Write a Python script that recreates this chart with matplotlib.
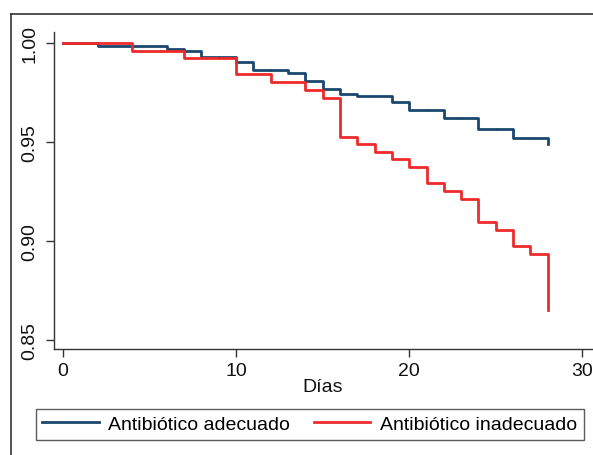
import matplotlib as mpl
mpl.rcParams.update({'font.size': 14, 'font.family': ['Liberation Sans', 'DejaVu Sans']})
from matplotlib import pyplot as plt
from matplotlib.lines import Line2D

# Kaplan-Meier steps
days_adecuado = [0, 2, 6, 7, 8, 10, 11, 13, 14, 15, 16, 17, 19, 20, 22, 24, 26, 28]
surv_adecuado = [1.0, 0.9986, 0.9972, 0.9959, 0.9932, 0.9905, 0.9865, 0.9851, 0.9809,
                 0.9770, 0.9745, 0.9730, 0.9704, 0.9662, 0.9620, 0.9564, 0.9522, 0.9488]
censor_adecuado = [9, 12, 18, 21, 23, 25, 27]

days_inadecuado = [0, 4, 7, 10, 12, 14, 15, 16, 17, 18, 19, 20, 21, 22, 23, 24, 25, 26, 27, 28]
surv_inadecuado = [1.0, 0.9958, 0.9922, 0.9843, 0.9801, 0.9762, 0.9723, 0.9527, 0.9489,
                   0.9449, 0.9412, 0.9371, 0.9290, 0.9254, 0.9214, 0.9094, 0.9053, 0.8976,
                   0.8935, 0.8648]

x_ticks = [0, 10, 20, 30]
y_ticks = [0.85, 0.90, 0.95, 1.00]
labels = ["Antibiótico adecuado", "Antibiótico inadecuado"]
colors = ['#1a476f', '#ee2a2a']
axis_col = '#333333'


def surv_at(days, surv, t):
    val = surv[0]
    for d, s in zip(days, surv):
        if d <= t:
            val = s
    return val


def main():
    W, H = 593, 456
    fig = plt.figure(figsize=(W / 100, H / 100), dpi=100)
    fig.patch.set_facecolor('white')

    # outer graph frame (cropped at right and bottom)
    fig.add_artist(Line2D([10.5 / W, 1.1], [1 - 15 / H, 1 - 15 / H],
                          transform=fig.transFigure, color=axis_col, lw=1.2))
    fig.add_artist(Line2D([10.5 / W, 10.5 / W], [1 - 15 / H, -0.1],
                          transform=fig.transFigure, color=axis_col, lw=1.2))

    ax = fig.add_axes([54 / W, 1 - 350 / H, (592 - 54) / W, (350 - 33) / H])
    ax.step(days_adecuado, surv_adecuado, where='post', color=colors[0], lw=2, label=labels[0])
    ax.step(days_inadecuado, surv_inadecuado, where='post', color=colors[1], lw=2, label=labels[1])

    # small censoring marks
    cy = [surv_at(days_adecuado, surv_adecuado, t) for t in censor_adecuado]
    ax.plot(censor_adecuado, cy, linestyle='none', marker='|', markersize=2,
            color=colors[0], markeredgewidth=0.8, alpha=0.7)

    ax.set_xlim(-0.52, 30.56)
    ax.set_ylim(0.8453, 1.0056)
    ax.set_xticks(x_ticks)
    ax.set_yticks(y_ticks)
    ax.set_yticklabels([f"{v:.2f}" for v in y_ticks], rotation=90, va='center')
    ax.tick_params(axis='x', length=6, width=1, color=axis_col, pad=3, labelcolor='#111111')
    ax.tick_params(axis='y', length=6, width=1, color=axis_col, pad=5, labelcolor='#111111')
    ax.set_xlabel("Días", labelpad=0, color='#111111')

    ax.spines['right'].set_visible(False)
    ax.spines['top'].set_visible(False)
    for s in ['left', 'bottom']:
        ax.spines[s].set_color(axis_col)
        ax.spines[s].set_linewidth(1)

    leg = ax.legend(loc='lower left', ncol=2, mode='expand',
                    bbox_to_anchor=(35.5 / W, 1 - 441 / H, (584 - 35.5) / W, 31 / H),
                    bbox_transform=fig.transFigure, borderaxespad=0, borderpad=0.35,
                    handlelength=2.9, handletextpad=0.5, fancybox=False)
    leg.get_frame().set_edgecolor(axis_col)
    leg.get_frame().set_linewidth(1)

    fig.savefig('out.png', dpi=100)


if __name__ == '__main__':
    main()
